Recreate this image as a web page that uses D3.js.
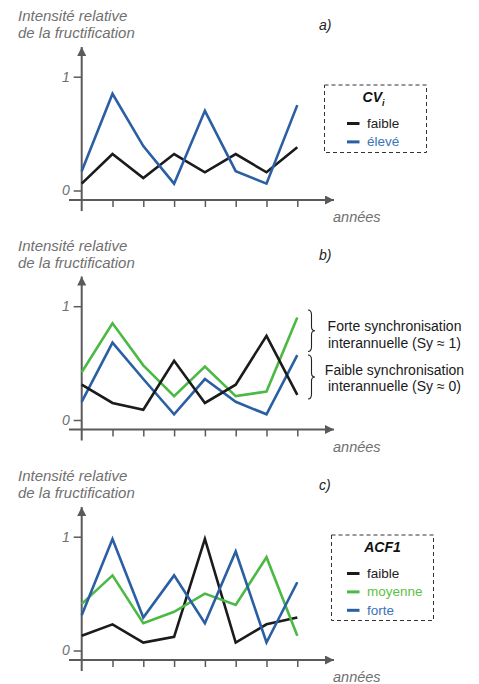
<!DOCTYPE html>
<html><head><meta charset="utf-8">
<script src="https://cdn.jsdelivr.net/npm/d3@7"></script>
<style>body{margin:0;background:#fff}svg{display:block;font-family:"Liberation Sans",Arial,sans-serif}</style>
</head><body>
<svg id="c" width="479" height="684"></svg>
<script>
const years = [0,1,2,3,4,5,6,7];
const yTicks = [0,1];
// Panel a: CVi
const aFaible = [0.06,0.32,0.11,0.32,0.16,0.32,0.16,0.38];
const aEleve  = [0.17,0.85,0.39,0.06,0.70,0.17,0.06,0.75];
// Panel b: synchronisation
const bGreen = [0.42,0.85,0.48,0.21,0.47,0.21,0.25,0.90];
const bBlue  = [0.16,0.68,0.36,0.05,0.36,0.16,0.05,0.57];
const bBlack = [0.31,0.15,0.09,0.52,0.15,0.31,0.74,0.22];
// Panel c: ACF1
const cFaible  = [0.13,0.23,0.07,0.12,0.98,0.07,0.23,0.29];
const cMoyenne = [0.41,0.66,0.24,0.34,0.50,0.40,0.82,0.13];
const cForte   = [0.31,0.98,0.29,0.66,0.24,0.87,0.07,0.60];

const titleLines = ["Intensité relative","de la fructification"];
const xLabel = "années";

const BLACK="#1b1b1b", BLUE="#2b5fa3", GREEN="#4cb944", GRAY="#5a5a5a", TXT="#707070";

const svg = d3.select("#c");
const defs = svg.append("defs");
defs.append("marker").attr("id","arr").attr("viewBox","0 0 10 10").attr("refX",10).attr("refY",5)
  .attr("markerWidth",12).attr("markerHeight",9).attr("markerUnits","userSpaceOnUse").attr("orient","auto")
  .append("path").attr("d","M0,0L10,5L0,10Z").attr("fill",GRAY);

function panel(off, label, series){
  const g = svg.append("g").attr("transform",`translate(0,${off})`);
  const x = d3.scaleLinear().domain([0,7]).range([81.7,297.3]);
  const y = d3.scaleLinear().domain([0,1]).range([190.5,76.7]);
  // title
  g.append("text").attr("x",18).attr("y",21).attr("font-size",15).attr("font-style","italic").attr("fill",TXT)
    .selectAll("tspan").data(titleLines).join("tspan").attr("x",18).attr("dy",(d,i)=>i?17:0).text(d=>d);
  g.append("text").attr("x",319).attr("y",30).attr("font-size",14).attr("font-style","italic").attr("fill","#222").text(label);
  // y axis
  g.append("line").attr("x1",81.7).attr("x2",81.7).attr("y1",211).attr("y2",47).attr("stroke",GRAY).attr("stroke-width",2).attr("marker-end","url(#arr)");
  const ya = g.append("g").attr("transform","translate(81.7,0)").call(d3.axisLeft(y).tickValues(yTicks).tickSize(8).tickPadding(4).tickFormat(d3.format("d")));
  ya.select(".domain").remove();
  ya.selectAll("line").attr("stroke",GRAY).attr("stroke-width",1.5);
  ya.selectAll("text").attr("font-size",14).attr("font-style","italic").attr("fill",TXT).attr("font-family","Liberation Sans, Arial, sans-serif");
  // x axis
  g.append("line").attr("x1",69).attr("x2",334).attr("y1",200).attr("y2",200).attr("stroke",GRAY).attr("stroke-width",2).attr("marker-end","url(#arr)");
  const xa = g.append("g").attr("transform","translate(0,200)").call(d3.axisBottom(x).tickValues(years.slice(1)).tickSize(7).tickFormat(""));
  xa.select(".domain").remove();
  xa.selectAll("line").attr("stroke",GRAY).attr("stroke-width",1.5);
  g.append("text").attr("x",333).attr("y",222).attr("font-size",14.5).attr("font-style","italic").attr("fill",TXT).text(xLabel);
  // lines
  const line = d3.line().x((d,i)=>x(years[i])).y(d=>y(d));
  series.forEach(s=>{
    g.append("path").attr("d",line(s.v)).attr("fill","none").attr("stroke",s.c).attr("stroke-width",2.6).attr("stroke-linejoin","miter");
  });
  return g;
}

function legend(g, box, title, sub, items, textColors){
  g.append("rect").attr("x",box[0]).attr("y",box[1]).attr("width",box[2]).attr("height",box[3])
    .attr("fill","none").attr("stroke","#333").attr("stroke-width",1).attr("stroke-dasharray","4,3");
  const t = g.append("text").attr("x",box[0]+box[2]/2+(sub?-2:0)).attr("y",box[1]+17).attr("text-anchor","middle")
    .attr("font-size",14).attr("font-weight","bold").attr("font-style","italic").attr("fill","#111").text(title);
  if(sub) t.append("tspan").attr("font-size",9).attr("dy",4).text(sub);
  items.forEach((it,i)=>{
    const cy = box[1]+38.5+i*18.4;
    g.append("line").attr("x1",347).attr("x2",359.5).attr("y1",cy).attr("y2",cy).attr("stroke",it.c).attr("stroke-width",3);
    g.append("text").attr("x",367).attr("y",cy+4.5).attr("font-size",13.5).attr("fill",textColors[i]).text(it.n);
  });
}

const ga = panel(0,"a)",[{v:aFaible,c:BLACK},{v:aEleve,c:BLUE}]);
legend(ga,[324.5,85,102,67.5],"CV","i",[{n:"faible",c:BLACK},{n:"élevé",c:BLUE}],["#222","#3b73b9"]);

const gb = panel(229.5,"b)",[{v:bGreen,c:GREEN},{v:bBlue,c:BLUE},{v:bBlack,c:BLACK}]);
// braces
function brace(g,x,y0,y1){
  const m=(y0+y1)/2, w=7;
  g.append("path").attr("d",`M${x},${y0} Q${x+w/2},${y0} ${x+w/2},${y0+5} L${x+w/2},${m-4} Q${x+w/2},${m} ${x+w},${m} Q${x+w/2},${m} ${x+w/2},${m+4} L${x+w/2},${y1-5} Q${x+w/2},${y1} ${x},${y1}`)
   .attr("fill","none").attr("stroke","#222").attr("stroke-width",1.1);
}
brace(gb,308,80.5,122);
brace(gb,308,125.5,169.5);
const braceText = [["Forte synchronisation","interannuelle (Sy ≈ 1)"],["Faible synchronisation","interannuelle (Sy ≈ 0)"]];
braceText.forEach((lines,k)=>{
  gb.append("text").attr("text-anchor","middle").attr("font-size",14).attr("fill","#1a1a1a")
    .selectAll("tspan").data(lines).join("tspan").attr("x",394.5).attr("y",(d,i)=>101.5+k*43.5+i*16.5).text(d=>d);
});

const gc = panel(460,"c)",[{v:cFaible,c:BLACK},{v:cMoyenne,c:GREEN},{v:cForte,c:BLUE}]);
legend(gc,[331.5,75,102,85.5],"ACF1",null,[{n:"faible",c:BLACK},{n:"moyenne",c:GREEN},{n:"forte",c:BLUE}],["#222","#5cbf45","#3b73b9"]);
</script>
</body></html>
